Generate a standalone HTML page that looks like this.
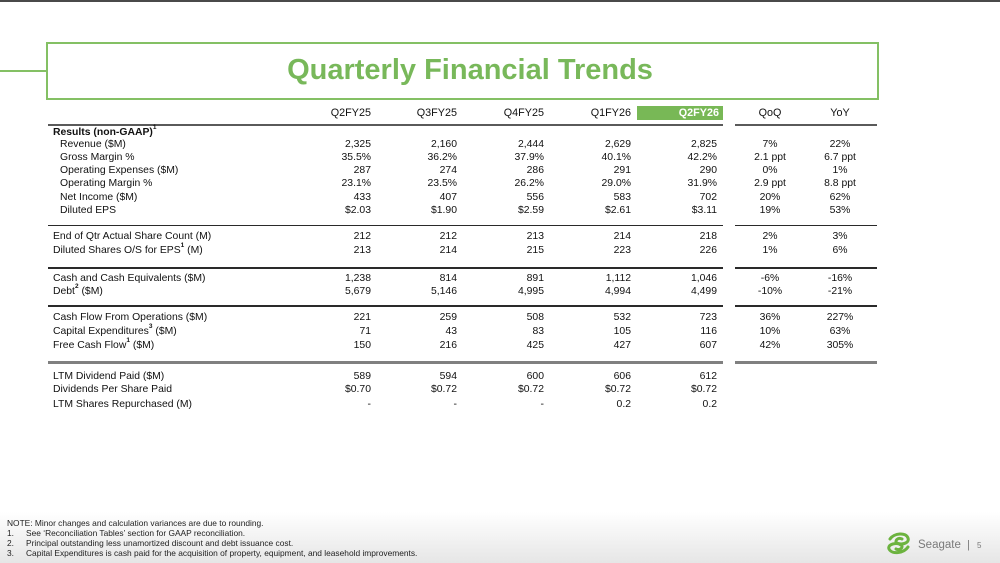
<!DOCTYPE html>
<html>
<head>
<meta charset="utf-8">
<style>
html,body{margin:0;padding:0;}
body{width:1000px;height:563px;position:relative;overflow:hidden;
 background:linear-gradient(to bottom,#ffffff 0px,#ffffff 512px,#e6e6e6 563px);
 font-family:"Liberation Sans",Arial,sans-serif;color:#111;}
.topline{position:absolute;left:0;top:0;width:1000px;height:2px;background:#4a4a4a;}
.gline{position:absolute;left:0;top:70px;width:47px;height:2px;background:#84c064;}
.tbox{position:absolute;left:46px;top:42px;width:829px;height:54px;border:2px solid #84c064;}
.title{position:absolute;left:0;top:52px;width:940px;text-align:center;font-weight:bold;font-size:29px;line-height:36px;color:#78b85a;}
.r{position:absolute;left:0;width:1000px;height:12px;line-height:12px;font-size:10.4px;}
.r span{position:absolute;white-space:nowrap;}
.l{left:53px;}
.li{left:60px;}
.c1{right:629px;}.c2{right:543px;}.c3{right:456px;}.c4{right:369px;}.c5{right:283px;}
.q{left:730px;width:80px;text-align:center;}
.y{left:800px;width:80px;text-align:center;}
sup{font-size:6.5px;font-weight:bold;vertical-align:top;position:relative;top:-2px;line-height:6px;}
.hl{position:absolute;left:637px;top:106px;width:86px;height:14px;background:#78b856;}
.hd{font-size:10.8px;}
.ln{position:absolute;height:1.5px;background:#2a2a2a;}
.foot{position:absolute;left:7px;font-size:8.4px;line-height:10px;color:#222;white-space:nowrap;}
.foot .n{position:absolute;left:0;}
.foot .t{position:absolute;left:19px;}
</style>
</head>
<body>
<div class="topline"></div>
<div class="gline"></div>
<div class="tbox"></div>
<div class="title">Quarterly Financial Trends</div>

<div class="hl"></div>
<div class="r hd" style="top:107px;">
 <span class="c1">Q2FY25</span><span class="c2">Q3FY25</span><span class="c3">Q4FY25</span><span class="c4">Q1FY26</span>
 <span class="c5" style="right:281px;color:#fff;font-weight:bold;">Q2FY26</span>
 <span class="q">QoQ</span><span class="y">YoY</span>
</div>
<div class="ln" style="left:48px;top:123.5px;width:675px;height:2px;background:#5a5a5a;"></div>
<div class="ln" style="left:735px;top:123.5px;width:142px;height:2px;background:#5a5a5a;"></div>

<div class="r" style="top:126.5px;"><span class="l" style="font-weight:bold;">Results (non-GAAP)<sup>1</sup></span></div>
<div class="r" style="top:138.5px;"><span class="li">Revenue ($M)</span><span class="c1">2,325</span><span class="c2">2,160</span><span class="c3">2,444</span><span class="c4">2,629</span><span class="c5">2,825</span><span class="q">7%</span><span class="y">22%</span></div>
<div class="r" style="top:151.5px;"><span class="li">Gross Margin %</span><span class="c1">35.5%</span><span class="c2">36.2%</span><span class="c3">37.9%</span><span class="c4">40.1%</span><span class="c5">42.2%</span><span class="q">2.1 ppt</span><span class="y">6.7 ppt</span></div>
<div class="r" style="top:164.5px;"><span class="li">Operating Expenses ($M)</span><span class="c1">287</span><span class="c2">274</span><span class="c3">286</span><span class="c4">291</span><span class="c5">290</span><span class="q">0%</span><span class="y">1%</span></div>
<div class="r" style="top:177.5px;"><span class="li">Operating Margin %</span><span class="c1">23.1%</span><span class="c2">23.5%</span><span class="c3">26.2%</span><span class="c4">29.0%</span><span class="c5">31.9%</span><span class="q">2.9 ppt</span><span class="y">8.8 ppt</span></div>
<div class="r" style="top:192px;"><span class="li">Net Income ($M)</span><span class="c1">433</span><span class="c2">407</span><span class="c3">556</span><span class="c4">583</span><span class="c5">702</span><span class="q">20%</span><span class="y">62%</span></div>
<div class="r" style="top:205px;"><span class="li">Diluted EPS</span><span class="c1">$2.03</span><span class="c2">$1.90</span><span class="c3">$2.59</span><span class="c4">$2.61</span><span class="c5">$3.11</span><span class="q">19%</span><span class="y">53%</span></div>

<div class="ln" style="left:48px;top:224.5px;width:675px;"></div>
<div class="ln" style="left:735px;top:224.5px;width:142px;"></div>

<div class="r" style="top:231px;"><span class="l">End of Qtr Actual Share Count (M)</span><span class="c1">212</span><span class="c2">212</span><span class="c3">213</span><span class="c4">214</span><span class="c5">218</span><span class="q">2%</span><span class="y">3%</span></div>
<div class="r" style="top:244.5px;"><span class="l">Diluted Shares O/S for EPS<sup>1</sup> (M)</span><span class="c1">213</span><span class="c2">214</span><span class="c3">215</span><span class="c4">223</span><span class="c5">226</span><span class="q">1%</span><span class="y">6%</span></div>

<div class="ln" style="left:48px;top:267px;width:675px;"></div>
<div class="ln" style="left:735px;top:267px;width:142px;"></div>

<div class="r" style="top:273px;"><span class="l">Cash and Cash Equivalents ($M)</span><span class="c1">1,238</span><span class="c2">814</span><span class="c3">891</span><span class="c4">1,112</span><span class="c5">1,046</span><span class="q">-6%</span><span class="y">-16%</span></div>
<div class="r" style="top:286px;"><span class="l">Debt<sup>2</sup> ($M)</span><span class="c1">5,679</span><span class="c2">5,146</span><span class="c3">4,995</span><span class="c4">4,994</span><span class="c5">4,499</span><span class="q">-10%</span><span class="y">-21%</span></div>

<div class="ln" style="left:48px;top:305px;width:675px;"></div>
<div class="ln" style="left:735px;top:305px;width:142px;"></div>

<div class="r" style="top:311.5px;"><span class="l">Cash Flow From Operations ($M)</span><span class="c1">221</span><span class="c2">259</span><span class="c3">508</span><span class="c4">532</span><span class="c5">723</span><span class="q">36%</span><span class="y">227%</span></div>
<div class="r" style="top:325.5px;"><span class="l">Capital Expenditures<sup>3</sup> ($M)</span><span class="c1">71</span><span class="c2">43</span><span class="c3">83</span><span class="c4">105</span><span class="c5">116</span><span class="q">10%</span><span class="y">63%</span></div>
<div class="r" style="top:339.5px;"><span class="l">Free Cash Flow<sup>1</sup> ($M)</span><span class="c1">150</span><span class="c2">216</span><span class="c3">425</span><span class="c4">427</span><span class="c5">607</span><span class="q">42%</span><span class="y">305%</span></div>

<div class="ln" style="left:48px;top:361px;width:675px;height:2.5px;background:#808080;"></div>
<div class="ln" style="left:735px;top:361px;width:142px;height:2.5px;background:#808080;"></div>

<div class="r" style="top:370.5px;"><span class="l">LTM Dividend Paid ($M)</span><span class="c1">589</span><span class="c2">594</span><span class="c3">600</span><span class="c4">606</span><span class="c5">612</span></div>
<div class="r" style="top:384px;"><span class="l">Dividends Per Share Paid</span><span class="c1">$0.70</span><span class="c2">$0.72</span><span class="c3">$0.72</span><span class="c4">$0.72</span><span class="c5">$0.72</span></div>
<div class="r" style="top:399px;"><span class="l">LTM Shares Repurchased (M)</span><span class="c1">-</span><span class="c2">-</span><span class="c3">-</span><span class="c4">0.2</span><span class="c5">0.2</span></div>

<div class="foot" style="top:517.5px;">NOTE: Minor changes and calculation variances are due to rounding.</div>
<div class="foot" style="top:527.5px;"><span class="n">1.</span><span class="t">See ‘Reconciliation Tables’ section for GAAP reconciliation.</span></div>
<div class="foot" style="top:537.5px;"><span class="n">2.</span><span class="t">Principal outstanding less unamortized discount and debt issuance cost.</span></div>
<div class="foot" style="top:547.5px;"><span class="n">3.</span><span class="t">Capital Expenditures is cash paid for the acquisition of property, equipment, and leasehold improvements.</span></div>

<svg style="position:absolute;left:886px;top:531px;" width="26" height="26" viewBox="0 0 26 26">
 <path d="M4 8 C8 2, 20 1, 22 7 C24 13, 14 14, 11 12 C8 10, 12 6, 16 8" fill="none" stroke="#6cb33f" stroke-width="3" stroke-linecap="round"/>
 <path d="M22 16 C18 22, 6 24, 3 18 C1 13, 11 11, 15 14 C18 16, 14 20, 10 18" fill="none" stroke="#6cb33f" stroke-width="3" stroke-linecap="round"/>
</svg>
<div style="position:absolute;left:918px;top:538px;font-size:11.5px;line-height:15px;color:#7a7a7a;">Seagate</div>
<div style="position:absolute;left:967px;top:538px;font-size:11px;line-height:15px;color:#7a7a7a;">|</div>
<div style="position:absolute;left:977px;top:540px;font-size:8px;line-height:12px;color:#7a7a7a;">5</div>
</body>
</html>
